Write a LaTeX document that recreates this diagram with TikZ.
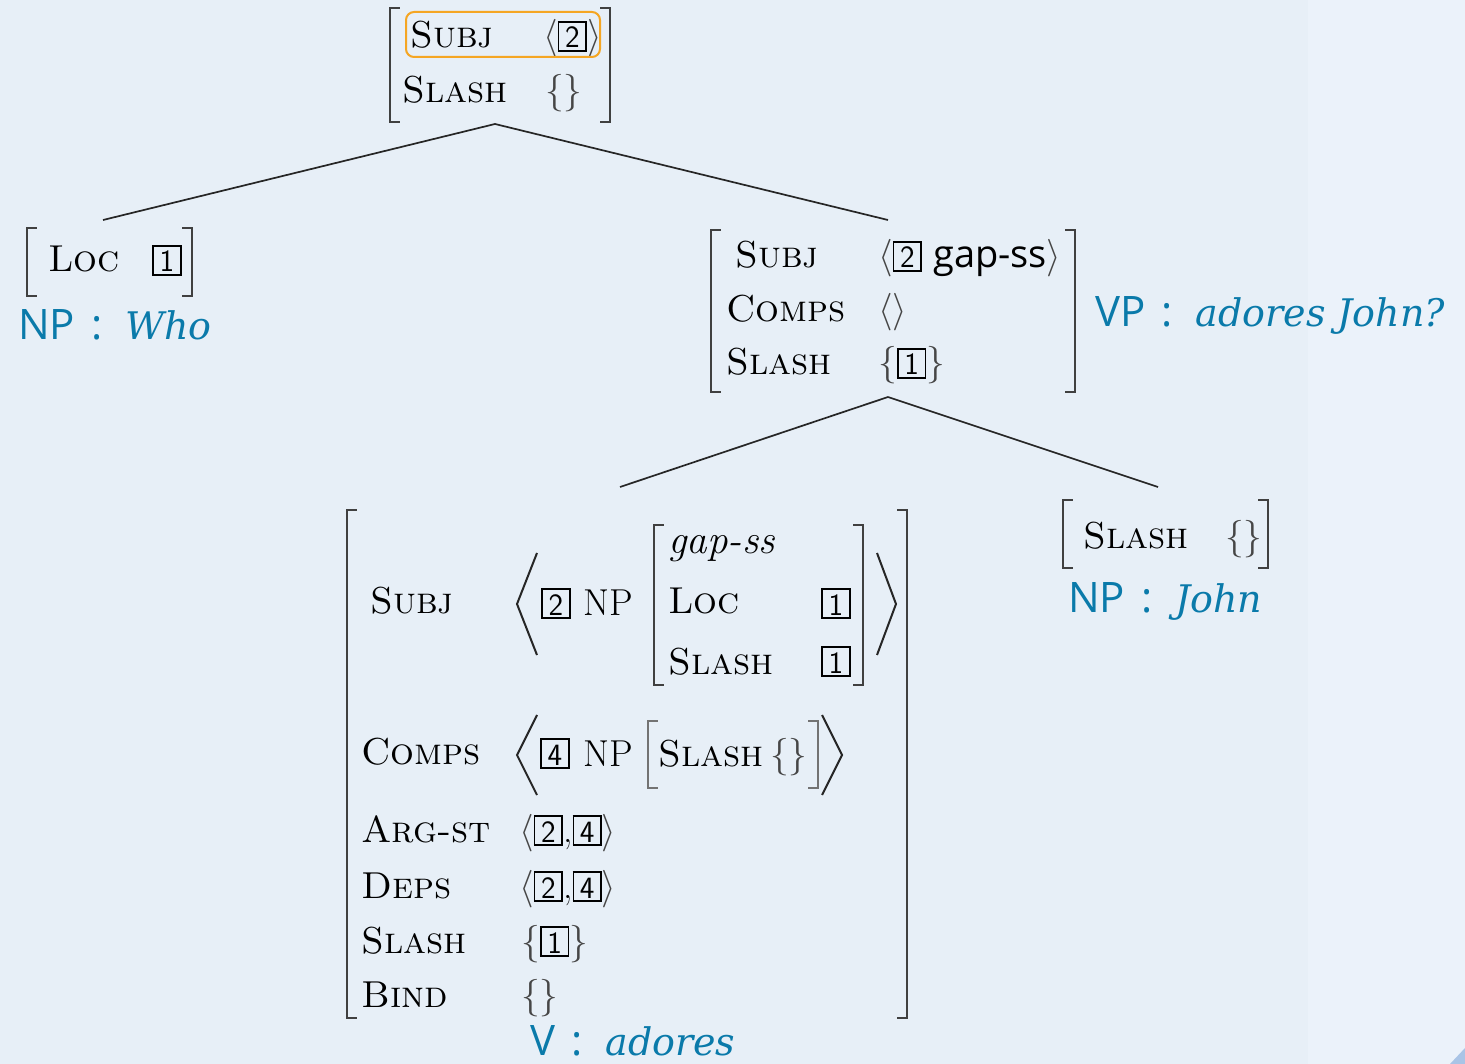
\RequirePackage{fix-cm}
\documentclass[tikz,border=0pt]{standalone}
\usepackage{fontspec}
\newfontfamily\labfont{Open Sans}
\newfontfamily\labit{DejaVu Serif}
\definecolor{bgA}{RGB}{231,239,247}
\definecolor{bgB}{RGB}{235,242,250}
\definecolor{corner}{RGB}{169,196,230}
\definecolor{labblue}{RGB}{10,122,170}
\definecolor{hiorange}{RGB}{245,166,35}
\definecolor{delim}{RGB}{70,70,70}
\newcommand\avmf{\fontsize{37.5}{45}\selectfont}
\newcommand\tg[1]{{\fboxsep=0pt\fboxrule=1.7pt\fbox{\fontsize{31}{31}\sffamily\selectfont\makebox[26pt]{\rule[-2pt]{0pt}{27pt}#1}}}}
\newcommand\lit[1]{{\labit\itshape\fontsize{38}{45}\selectfont #1}}
\newcommand\sep{\hspace{16pt}:\hspace{23pt}}
\newcommand\la{{\color{delim}$\langle$}}
\newcommand\ra{{\color{delim}$\rangle$}}
\newcommand\lc{{\color{delim}$\{$}}
\newcommand\rc{{\color{delim}$\}$}}
\tikzset{
  avm/.style={anchor=base west, inner sep=0pt, font=\avmf},
  lab/.style={anchor=base west, inner sep=0pt, text=labblue, font=\labfont\fontsize{42}{50}\selectfont},
  brk/.style={line width=2pt, draw=black!75, line cap=rect},
  branch/.style={line width=1.7pt, draw=black!85},
  bigang/.style={line width=2pt, draw=black!85},
}
\newcommand\lbr[3]{\draw[brk] (#1+9,#2) -- (#1,#2) -- (#1,#3) -- (#1+9,#3);}
\newcommand\rbr[3]{\draw[brk] (#1-9,#2) -- (#1,#2) -- (#1,#3) -- (#1-9,#3);}
\begin{document}
\begin{tikzpicture}[x=1pt,y=-1pt]
\useasboundingbox (0,0) rectangle (1465,1064);
\fill[bgA] (0,0) rectangle (1308,1064);
\fill[bgB] (1308,0) rectangle (1465,1064);
\fill[corner] (1465,1048) -- (1465,1064) -- (1450,1064) -- cycle;

% ---------- top AVM ----------
\lbr{390}{8}{122}
\rbr{610}{8}{122}
\node[avm] (tsubj) at (410,48) {\textsc{Subj}};
\node[avm] (tsubjv) at (543,48) {\la\tg{2}\ra};
\node[avm] (tslash) at (402,103) {\textsc{Slash}};
\node[avm] (tslashv) at (545,103) {\lc\rc};
\draw[hiorange, line width=2pt, rounded corners=8pt] (406,12) rectangle (600,57);

% ---------- branches top ----------
\coordinate (top) at (495,124);
\coordinate (np1) at (103,220);
\coordinate (vp) at (888,220);
\draw[branch] (top) -- (np1);
\draw[branch] (top) -- (vp);

% ---------- left NP ----------
\lbr{27}{228}{296}
\rbr{192}{228}{296}
\node[avm] (lloc) at (48,272) {\textsc{Loc}};
\node[avm] (llocv) at (152,272) {\tg{1}};
\node[lab] (lwho) at (18,340) {NP\sep\lit{Who}};

% ---------- VP AVM ----------
\lbr{711}{230}{392}
\rbr{1075}{230}{392}
\node[avm] (vsubj) at (735,268) {\textsc{Subj}};
\node[avm] (vsubjv) at (878,268) {\la\tg{2}\hspace{11pt}{\labfont\fontsize{38}{45}\selectfont gap-ss}\ra};
\node[avm] (vcomps) at (726,322) {\textsc{Comps}};
\node[avm] (vcompsv) at (878,322) {\la\ra};
\node[avm] (vslash) at (726,375) {\textsc{Slash}};
\node[avm] (vslashv) at (878,375) {\lc\tg{1}\rc};
\node[lab] (vplab) at (1095,327) {VP\sep\lit{adores John?}};

% ---------- branches VP ----------
\coordinate (vpb) at (888,397);
\coordinate (vv) at (620,487);
\coordinate (np2) at (1158,487);
\draw[branch] (vpb) -- (vv);
\draw[branch] (vpb) -- (np2);

% ---------- V AVM ----------
\lbr{347}{510}{1018}
\rbr{907}{510}{1018}
\node[avm] (asubj) at (370,613) {\textsc{Subj}};
\draw[bigang] (537,553) -- (517,604) -- (537,655);
\node[avm] (asubj2) at (541,615) {\tg{2}};
\node[avm] (asubjnp) at (583,615) {NP};
\lbr{654}{525}{685}
\rbr{863}{525}{685}
\node[avm] (agap) at (668,553) {\fontsize{41}{45}\selectfont\itshape gap-ss};
\node[avm] (aloc) at (668,613) {\textsc{Loc}};
\node[avm] (alocv) at (821,615) {\tg{1}};
\node[avm] (aislash) at (668,674) {\textsc{Slash}};
\node[avm] (aislashv) at (821,673) {\tg{1}};
\draw[bigang] (877,553) -- (896,604) -- (877,655);

\node[avm] (acomps) at (361,764) {\textsc{Comps}};
\draw[bigang] (537,715) -- (517,755) -- (537,795);
\node[avm] (acomps4) at (540,765) {\tg{4}};
\node[avm] (acompsnp) at (583,766) {NP};
\draw[brk, draw=black!55] (657,721) -- (648,721) -- (648,788) -- (657,788);
\draw[brk, draw=black!55] (809,721) -- (818,721) -- (818,788) -- (809,788);
\node[avm] (acslash) at (658,766) {\textsc{Slash}};
\node[avm] (acslashv) at (770,766) {\lc\rc};
\draw[bigang] (822,715) -- (842,755) -- (822,795);

\node[avm] (aarg) at (361,842) {\textsc{Arg-st}};
\node[avm] (aargv) at (519,842) {\la\tg{2},\tg{4}\ra};
\node[avm] (adeps) at (361,898) {\textsc{Deps}};
\node[avm] (adepsv) at (519,898) {\la\tg{2},\tg{4}\ra};
\node[avm] (aslash) at (361,953) {\textsc{Slash}};
\node[avm] (aslashv) at (521,953) {\lc\tg{1}\rc};
\node[avm] (abind) at (361,1007) {\textsc{Bind}};
\node[avm] (abindv) at (521,1007) {\lc\rc};
\node[lab] (vlab) at (530,1055) {V\sep\lit{adores}};

% ---------- right NP ----------
\lbr{1063}{500}{568}
\rbr{1268}{500}{568}
\node[avm] (rslash) at (1083,548) {\textsc{Slash}};
\node[avm] (rslashv) at (1225,548) {\lc\rc};
\node[lab] (rjohn) at (1068,612) {NP\sep\lit{John}};
\end{tikzpicture}
\end{document}
